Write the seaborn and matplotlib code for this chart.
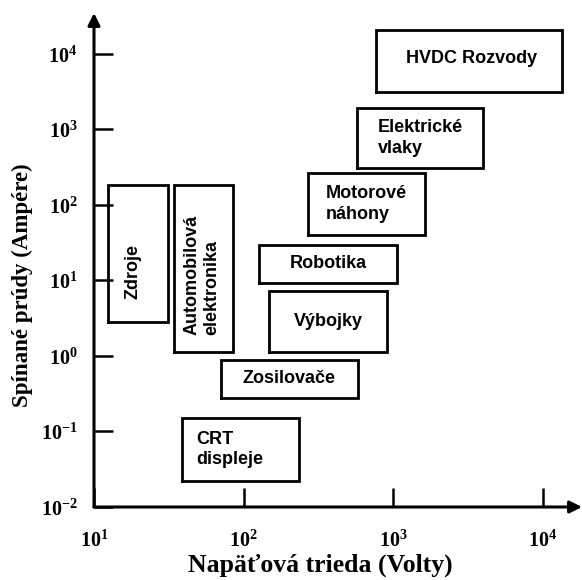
import matplotlib
matplotlib.use("Agg")
import matplotlib.pyplot as plt
import seaborn as sns
import numpy as np
import pandas as pd

# ---- data ----
labels = ["Zdroje", "Automobilová\nelektronika", "CRT\ndispleje", "Zosilovače",
          "Výbojky", "Robotika", "Motorové\nnáhony", "Elektrické\nvlaky", "HVDC Rozvody"]
v_low = [12.4, 34, 39, 70, 148, 127, 269, 571, 765]
v_high = [31, 85, 234, 580, 906, 1057, 1626, 3970, 13400]
a_low = [2.8, 1.13, 0.022, 0.28, 1.13, 9.3, 40, 309, 3140]
a_high = [185, 185, 0.151, 0.885, 7.3, 29.5, 265, 1930, 20800]

x_ticks = [10, 100, 1000, 10000]
x_tick_labels = [r"$\mathbf{10^{1}}$", r"$\mathbf{10^{2}}$", r"$\mathbf{10^{3}}$", r"$\mathbf{10^{4}}$"]
y_ticks = [0.01, 0.1, 1, 10, 100, 1000, 10000]
y_tick_labels = [r"$\mathbf{10^{-2}}$", r"$\mathbf{10^{-1}}$", r"$\mathbf{10^{0}}$", r"$\mathbf{10^{1}}$",
                 r"$\mathbf{10^{2}}$", r"$\mathbf{10^{3}}$", r"$\mathbf{10^{4}}$"]
x_label = "Napäťová trieda (Volty)"
y_label = "Spínané prúdy (Ampére)"

# ---- styles (label rotation and offsets in points) ----
rotations = [90, 90, 0, 0, 0, 0, 0, 0, 0]
offsets = [(-3.5, -13), (-1, -5), (-8, 0), (0, 0), (0, 0), (0, 0), (0, 0), (0, 0), (2, 2)]

sns.set_theme(style="white")
plt.rcParams["mathtext.fontset"] = "custom"
plt.rcParams["mathtext.rm"] = "Liberation Serif:bold"
plt.rcParams["mathtext.bf"] = "Liberation Serif:bold"
plt.rcParams["mathtext.it"] = "Liberation Serif:bold"

fig = plt.figure(figsize=(5.82, 5.80), dpi=100)
W, H = 582, 580
ax = fig.add_axes([94 / W, 1 - 507 / H, (W - 94) / W, (507 - 13) / H])

# box outlines as closed polylines
rows = []
for i, lab in enumerate(labels):
    xs = [v_low[i], v_high[i], v_high[i], v_low[i], v_low[i]]
    ys = [a_low[i], a_low[i], a_high[i], a_high[i], a_low[i]]
    for k, (xx, yy) in enumerate(zip(xs, ys)):
        rows.append({"box": lab, "V": xx, "A": yy, "order": k})
df = pd.DataFrame(rows)

ax.set_xscale("log")
ax.set_yscale("log")
sns.lineplot(data=df, x="V", y="A", units="box", estimator=None, sort=False,
             color="black", lw=2.0, ax=ax, legend=False,
             solid_capstyle="projecting", solid_joinstyle="miter")

for i, lab in enumerate(labels):
    cx = np.sqrt(v_low[i] * v_high[i])
    cy = np.sqrt(a_low[i] * a_high[i])
    ax.annotate(lab, xy=(cx, cy), xytext=offsets[i], textcoords="offset points",
                ha="center", va="center", multialignment="left", rotation=rotations[i],
                fontsize=13, fontweight="bold", family="Liberation Sans",
                color="black", linespacing=1.25)

ax.set_xlim(10, 10 ** 4.26)
ax.set_ylim(0.01, 10 ** 4.543)

for s in ax.spines.values():
    s.set_visible(False)

# axes with arrows
ax.annotate("", xy=(1, 0), xytext=(0, 0), xycoords="axes fraction",
            arrowprops=dict(arrowstyle="-|>", color="black", lw=2.2,
                            mutation_scale=18, shrinkA=0, shrinkB=0), annotation_clip=False)
ax.annotate("", xy=(0, 1), xytext=(0, 0), xycoords="axes fraction",
            arrowprops=dict(arrowstyle="-|>", color="black", lw=2.2,
                            mutation_scale=18, shrinkA=0, shrinkB=0), annotation_clip=False)

ax.set_xticks(x_ticks, labels=x_tick_labels)
ax.set_yticks(y_ticks, labels=y_tick_labels)
ax.minorticks_off()
ax.tick_params(axis="both", which="major", direction="in", length=14, width=1.8,
               color="black", labelsize=14.5, labelcolor="black",
               bottom=True, left=True, top=False, right=False)
ax.tick_params(axis="x", pad=16)
ax.tick_params(axis="y", pad=12)

ax.set_xlabel(x_label, fontsize=18.5, fontweight="bold", family="Liberation Serif", color="black")
ax.set_ylabel(y_label, fontsize=16.5, fontweight="bold", family="Liberation Serif", color="black")
ax.xaxis.label.set_verticalalignment("baseline")
ax.yaxis.label.set_verticalalignment("baseline")
ax.yaxis.label.set_rotation_mode("anchor")
ax.xaxis.set_label_coords((320 - 94) / 488, (507 - 572) / 494)
ax.yaxis.set_label_coords((28 - 94) / 488, (507 - 285) / 494)
ax.grid(False)

fig.savefig("out.png", dpi=100)
